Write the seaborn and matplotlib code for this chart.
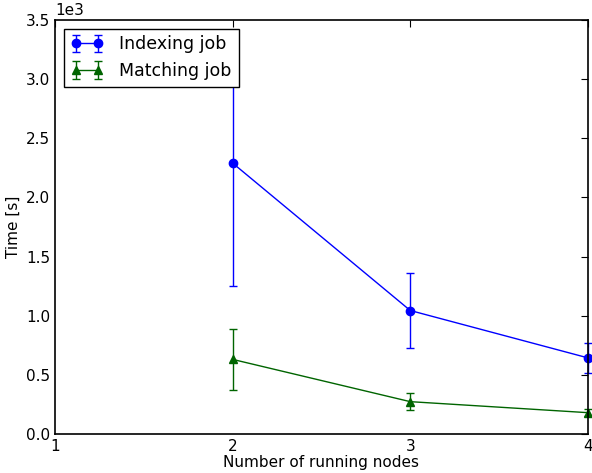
import matplotlib
matplotlib.use("Agg")
import matplotlib.pyplot as plt
import seaborn as sns
import numpy as np

nodes = [2, 3, 4]
index_time = [2290, 1045, 645]
index_err = [1040, 317, 127]
match_time = [632, 275, 182]
match_err = [260, 72, 30]

sns.set_style("white")
plt.rcParams['font.family'] = ['DejaVu Sans']
plt.rcParams['text.color'] = 'black'
plt.rcParams['axes.labelcolor'] = 'black'
plt.rcParams['xtick.color'] = 'black'
plt.rcParams['ytick.color'] = 'black'

fig = plt.figure(figsize=(5.92, 4.73), dpi=100)
ax = fig.add_axes([0.093, 0.082, 0.9, 0.876])

ax.errorbar(nodes, index_time, yerr=index_err, color='#0000ff', marker='o', markersize=6,
            capsize=3, elinewidth=1, linewidth=1, label='Indexing job', clip_on=False)
ax.errorbar(nodes, match_time, yerr=match_err, color='#006400', marker='^', markersize=6,
            capsize=3, elinewidth=1, linewidth=1, label='Matching job', clip_on=False)

ax.set_xlim(1, 4)
ax.set_ylim(0, 3500)
ax.set_xticks([1, 2, 3, 4])
ax.set_yticks(np.arange(0, 3501, 500))
ax.set_yticklabels([f"{v/1000:.1f}" for v in np.arange(0, 3501, 500)])
ax.text(0.0, 1.005, "1e3", transform=ax.transAxes, fontsize=11, ha='left', va='bottom')
ax.tick_params(axis='both', which='both', direction='in', top=True, right=True,
               length=5, width=0.8, labelsize=11, color='black', labelcolor='black')
for s in ax.spines.values():
    s.set_color('black')
    s.set_linewidth(1.2)
ax.set_xlabel("Number of running nodes", fontsize=11, labelpad=1)
ax.set_ylabel("Time [s]", fontsize=11)
leg = ax.legend(loc='upper left', fontsize=12.5, frameon=True, fancybox=False,
                edgecolor='black', framealpha=1.0, borderaxespad=0.5, handlelength=1.9,
                handletextpad=0.9, borderpad=0.4, numpoints=2)
leg.get_frame().set_linewidth(1.0)
leg.set_zorder(10)

fig.savefig("out.png", dpi=100)
